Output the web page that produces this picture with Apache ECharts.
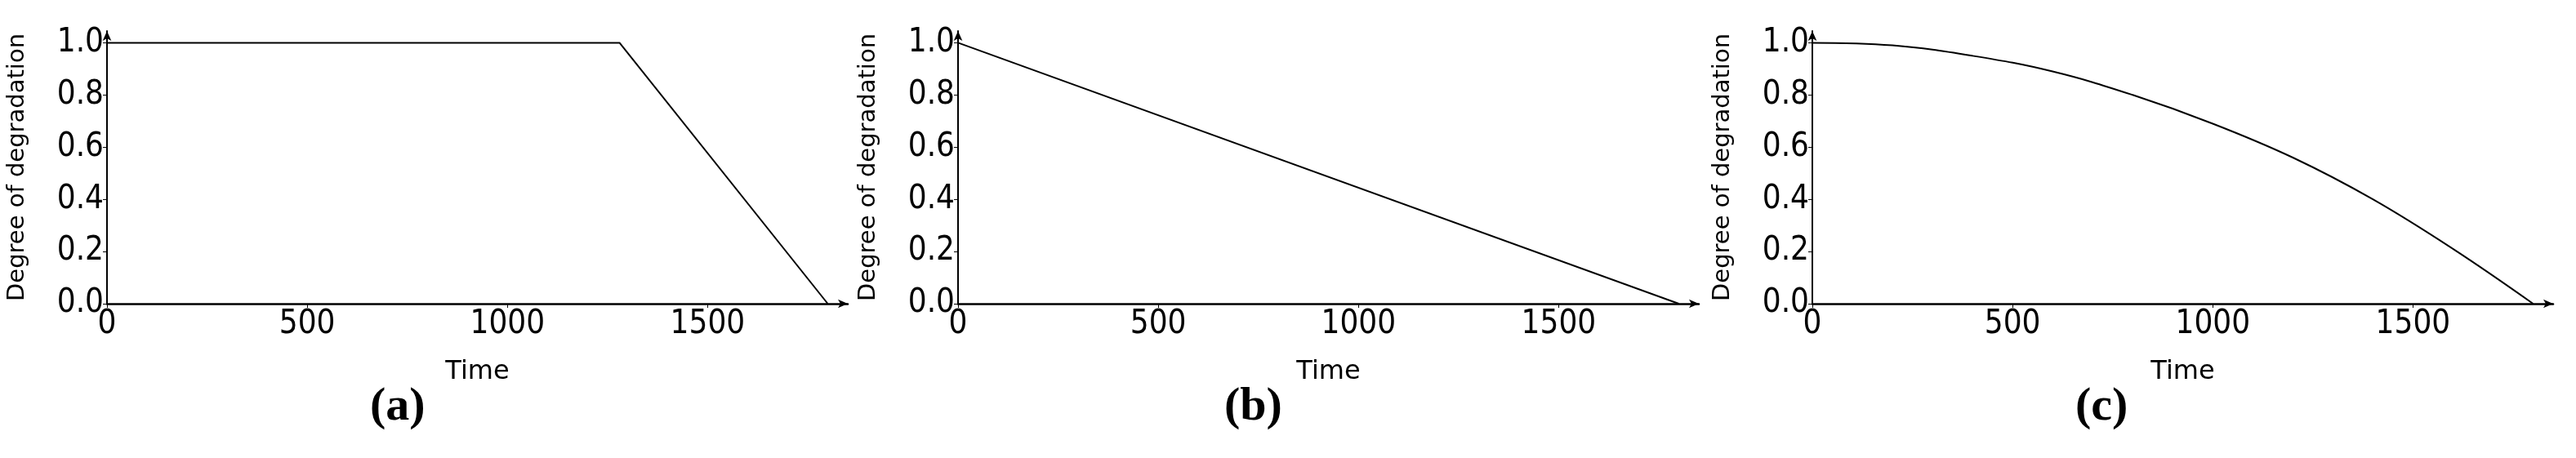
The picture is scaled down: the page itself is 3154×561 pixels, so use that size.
<!DOCTYPE html>
<html>
<head>
<meta charset="utf-8">
<style>html,body{margin:0;padding:0;background:#fff}#chart{width:3154px;height:561px}</style>
<script src="https://cdn.jsdelivr.net/npm/echarts@6/dist/echarts.min.js"></script>
</head>
<body>
<div id="chart"></div>
<script>
// panel (a): flat then linear drop
var timeA = [0, 1280, 1800];
var degA = [1.0, 1.0, 0.0];
// panel (b): linear drop
var timeB = [0, 1800];
var degB = [1.0, 0.0];
// panel (c): curved drop
var timeC = [0, 200, 400, 600, 800, 1000, 1200, 1400, 1600, 1800];
var degC = [1.0, 0.99, 0.95, 0.89, 0.80, 0.69, 0.56, 0.40, 0.21, 0.0];
var xTicks = [0, 500, 1000, 1500];
var yTicks = [0.0, 0.2, 0.4, 0.6, 0.8, 1.0];
var panelLabels = ['(a)', '(b)', '(c)'];
var lefts = [131, 1173, 2219];
var centers = [493, 1539, 2581];

var font = 'DejaVu Sans Condensed';
var chart = echarts.init(document.getElementById('chart'));
var grids = [], xAxes = [], yAxes = [], series = [], graphics = [];
var datasets = [[timeA, degA], [timeB, degB], [timeC, degC]];
datasets.forEach(function (d, i) {
    grids.push({left: lefts[i], top: 38, width: 907, height: 334});
    xAxes.push({
        gridIndex: i, type: 'value', min: 0, max: 1850, interval: 500,
        name: 'Time', nameLocation: 'middle', nameGap: 68,
        nameTextStyle: {fontFamily: 'DejaVu Sans', fontSize: 32, color: '#000'},
        axisLine: {lineStyle: {color: '#000', width: 2.5}, symbol: ['none', 'arrow'], symbolSize: [8, 12]},
        axisTick: {show: true, length: 5, lineStyle: {color: '#000'}},
        axisLabel: {fontFamily: font, fontSize: 40, color: '#000', margin: 6, showMaxLabel: false,
            formatter: function (v) { return xTicks.indexOf(v) >= 0 ? String(v) : ''; }},
        splitLine: {show: false}
    });
    yAxes.push({
        gridIndex: i, type: 'value', min: 0, max: 1.045, interval: 0.2,
        name: 'Degree of degradation', nameLocation: 'middle', nameGap: 95, nameRotate: 90,
        nameTextStyle: {fontFamily: 'DejaVu Sans', fontSize: 29, color: '#000'},
        axisLine: {show: true, lineStyle: {color: '#000', width: 2}, symbol: ['none', 'arrow'], symbolSize: [8, 12]},
        axisTick: {show: true, length: 5, lineStyle: {color: '#000'}},
        axisLabel: {fontFamily: font, fontSize: 40, color: '#000', margin: 4, showMaxLabel: false,
            formatter: function (v) {
                var t = yTicks.filter(function (y) { return Math.abs(y - v) < 1e-6; });
                return t.length ? t[0].toFixed(1) : '';
            }},
        splitLine: {show: false}
    });
    series.push({
        type: 'line', xAxisIndex: i, yAxisIndex: i, showSymbol: false,
        smooth: i === 2 ? 0.4 : false,
        lineStyle: {color: '#000', width: i === 0 ? 2 : 2},
        data: d[0].map(function (t, k) { return [t, d[1][k]]; })
    });
    graphics.push({
        type: 'text', left: centers[i] - 40, top: 470,
        style: {text: panelLabels[i], font: 'bold 58px "Liberation Serif"', fill: '#000'}
    });
});
chart.setOption({
    animation: false,
    grid: grids, xAxis: xAxes, yAxis: yAxes, series: series, graphic: graphics
});
</script>
</body>
</html>
